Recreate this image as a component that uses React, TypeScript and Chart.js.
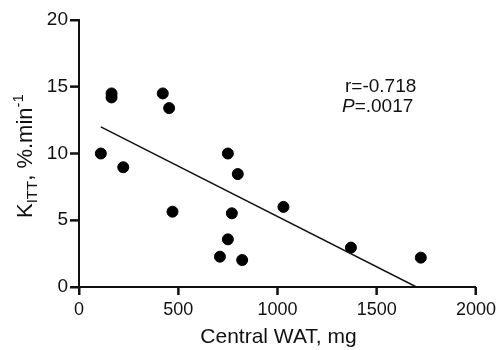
import React, { useEffect, useRef } from "react";
import { Chart, registerables } from "chart.js";

Chart.register(...registerables);

const centralWAT = [110, 164, 164, 223, 422, 454, 471, 710, 750, 750, 770, 800, 822, 1030, 1370, 1722];
const kITT = [10.0, 14.5, 14.2, 8.97, 14.5, 13.4, 5.64, 2.27, 3.57, 10.0, 5.52, 8.46, 2.02, 6.0, 2.95, 2.2];
const fitX = [110, 1700];
const fitY = [12.0, 0];
const xTickStep = 500;
const yTickStep = 5;
const statR = "r=-0.718";
const statP = "=.0017";

const FONT = "'Liberation Sans', Arial, Helvetica, sans-serif";
const INK = "#111111";

const annotations = {
  id: "annotations",
  afterDraw(chart: any) {
    const ctx = chart.ctx;
    const xs = chart.scales.x;
    const ys = chart.scales.y;
    const area = chart.chartArea;
    ctx.save();
    // tick marks
    ctx.strokeStyle = INK;
    ctx.lineWidth = 2;
    ctx.beginPath();
    xs.ticks.forEach((t: any) => {
      const px = xs.getPixelForValue(t.value);
      ctx.moveTo(px, area.bottom);
      ctx.lineTo(px, area.bottom + 8);
    });
    ys.ticks.forEach((t: any) => {
      const py = ys.getPixelForValue(t.value);
      ctx.moveTo(area.left, py);
      ctx.lineTo(area.left - 9, py);
    });
    ctx.stroke();

    ctx.fillStyle = INK;
    ctx.textBaseline = "alphabetic";
    // x title
    ctx.font = `21px ${FONT}`;
    ctx.textAlign = "center";
    ctx.fillText("Central WAT, mg", 278.5, 343);
    // stats
    ctx.textAlign = "left";
    ctx.font = `19px ${FONT}`;
    ctx.fillText(statR, 345, 92);
    ctx.font = `italic 19px ${FONT}`;
    ctx.fillText("P", 342, 112);
    const pw = ctx.measureText("P").width;
    ctx.font = `19px ${FONT}`;
    ctx.fillText(statP, 342 + pw, 112);
    // y title
    ctx.translate(32, 218);
    ctx.rotate(-Math.PI / 2);
    let x = 0;
    ctx.font = `22px ${FONT}`;
    ctx.fillText("K", x, 0);
    x += ctx.measureText("K").width;
    ctx.font = `15px ${FONT}`;
    ctx.fillText("ITT", x, 5);
    x += ctx.measureText("ITT").width;
    ctx.font = `22px ${FONT}`;
    ctx.fillText(", %.min", x, 0);
    x += ctx.measureText(", %.min").width;
    ctx.font = `15px ${FONT}`;
    ctx.fillText("-1", x, -9);
    ctx.restore();
  },
};

export default function App() {
  const ref = useRef<HTMLCanvasElement | null>(null);
  useEffect(() => {
    if (!ref.current) return;
    const chart = new Chart(ref.current, {
      type: "scatter",
      data: {
        datasets: [
          {
            type: "line",
            data: fitX.map((v, i) => ({ x: v, y: fitY[i] })),
            borderColor: INK,
            borderWidth: 1.5,
            pointRadius: 0,
            fill: false,
          } as any,
          {
            data: centralWAT.map((v, i) => ({ x: v, y: kITT[i] })),
            backgroundColor: "#000000",
            borderColor: "#000000",
            pointRadius: 5.5,
            pointHoverRadius: 5.5,
          },
        ],
      },
      plugins: [annotations],
      options: {
        animation: false,
        responsive: false,
        events: [],
        layout: { padding: { left: 0, right: 23, top: 20, bottom: 0 } },
        plugins: { legend: { display: false }, tooltip: { enabled: false } },
        scales: {
          x: {
            type: "linear",
            min: 0,
            max: 2000,
            afterFit: (s: any) => {
              s.height = 63;
            },
            ticks: {
              stepSize: xTickStep,
              color: INK,
              font: { family: FONT, size: 18 },
              padding: 4,
              maxRotation: 0,
              callback: (v: any) => String(v),
            },
            grid: {
              display: true,
              drawOnChartArea: false,
              drawTicks: true,
              tickLength: 8,
              tickWidth: 2,
              tickColor: INK,
              color: INK,
            },
            border: { display: true, color: INK, width: 2 },
          },
          y: {
            type: "linear",
            min: 0,
            max: 20,
            afterFit: (s: any) => {
              s.width = 79;
            },
            ticks: {
              stepSize: yTickStep,
              color: INK,
              font: { family: FONT, size: 19 },
              padding: 2,
              callback: (v: any) => String(v),
            },
            grid: {
              display: true,
              drawOnChartArea: false,
              drawTicks: true,
              tickLength: 9,
              tickWidth: 2,
              tickColor: INK,
              color: INK,
            },
            border: { display: true, color: INK, width: 2 },
          },
        },
      },
    });
    return () => chart.destroy();
  }, []);
  return (
    <div style={{ position: "fixed", left: 0, top: 0, width: 500, height: 350, background: "#fff" }}>
      <canvas ref={ref} width={500} height={350} style={{ display: "block", width: 500, height: 350 }} />
    </div>
  );
}
